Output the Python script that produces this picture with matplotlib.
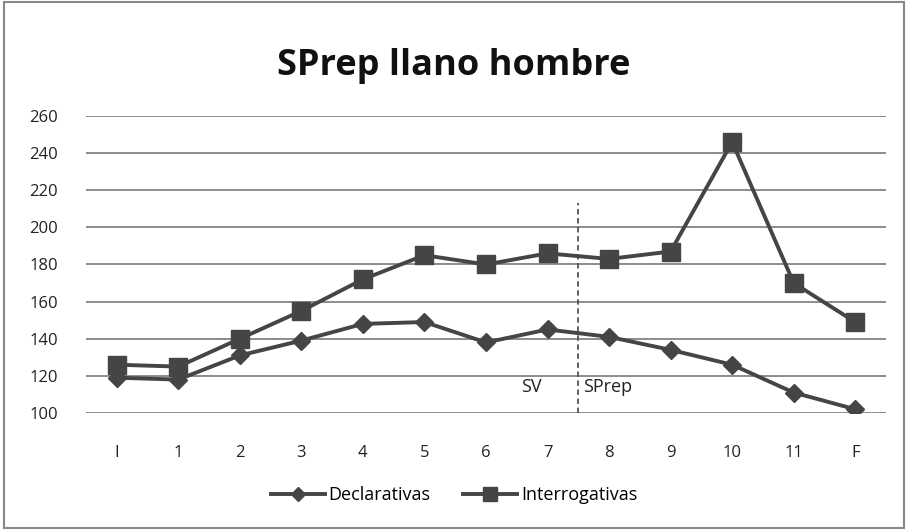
import matplotlib.pyplot as plt
from matplotlib.patches import Rectangle

# data
categories = ['I', '1', '2', '3', '4', '5', '6', '7', '8', '9', '10', '11', 'F']
declarativas = [119, 118, 131, 139, 148, 149, 138, 145, 141, 134, 126, 111, 102]
interrogativas = [126, 125, 140, 155, 172, 185, 180, 186, 183, 187, 246, 170, 149]
y_ticks = [100, 120, 140, 160, 180, 200, 220, 240, 260]

plt.rcParams['font.family'] = ['Open Sans', 'DejaVu Sans']

fig = plt.figure(figsize=(9.08, 5.30), dpi=100)
ax = fig.add_axes([0.0947, 0.2208, 0.8811, 0.5603])

x = list(range(len(categories)))
line_color = '#454545'
ax.plot(x, declarativas, color=line_color, lw=2.8, marker='D', markersize=9.5,
        label='Declarativas', zorder=3)
ax.plot(x, interrogativas, color=line_color, lw=2.8, marker='s', markersize=12.5,
        label='Interrogativas', zorder=3)

# boundary between SV and SPrep
ax.plot([7.5, 7.5], [100, 213], color='#555555', lw=1.3, ls=(0, (3, 2)), zorder=2)
ax.text(6.9, 114, 'SV', ha='right', va='center', fontsize=13, color='#222222')
ax.text(7.57, 114, 'SPrep', ha='left', va='center', fontsize=13, color='#222222')

ax.set_xlim(-0.5, len(categories) - 0.5)
ax.set_ylim(100, 260)
ax.set_yticks(y_ticks)
ax.set_xticks(x)
ax.set_xticklabels(categories)
ax.tick_params(axis='both', length=0, labelsize=12, colors='#222222')
ax.tick_params(axis='x', pad=23)
ax.tick_params(axis='y', pad=20)
ax.yaxis.grid(True, color='#8c8c8c', lw=1.4)
ax.set_axisbelow(True)
for s in ax.spines.values():
    s.set_visible(False)

fig.suptitle('SPrep llano hombre', y=0.91, fontsize=26, fontweight='bold', color='#111111')

leg = fig.legend(loc='lower center', bbox_to_anchor=(0.5, 0.018), ncol=2, frameon=False,
                 fontsize=13, handlelength=3.0, columnspacing=1.8, handletextpad=0.2,
                 markerscale=0.75)

# outer chart frame
fig.patches.append(Rectangle((0.004, 0.004), 0.992, 0.992, transform=fig.transFigure,
                             fill=False, edgecolor='#888888', lw=1.5))

plt.savefig('out.png', dpi=100)
